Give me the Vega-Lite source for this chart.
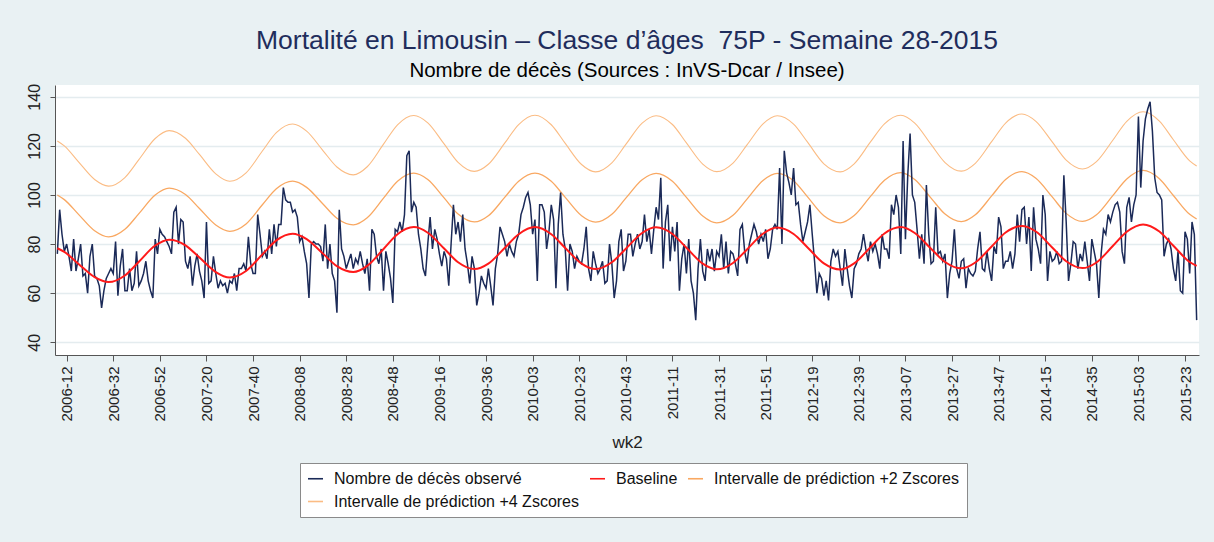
{
"$schema": "https://vega.github.io/schema/vega-lite/v6.json",
"width": 1144,
"height": 270,
"autosize": {"type": "none"},
"padding": {"left": 55, "top": 85, "right": 15, "bottom": 187},
"background": "#e9f1f3",
"title": {"text": "Mortalité en Limousin – Classe d’âges \u00a075P - Semaine 28-2015", "subtitle": "Nombre de décès (Sources : InVS-Dcar / Insee)", "anchor": "middle", "font": "Liberation Sans", "fontSize": 26.5, "fontWeight": "normal", "color": "#1f2d5c", "subtitleFont": "Liberation Sans", "subtitleFontSize": 20.5, "subtitleColor": "#000000", "offset": 2, "subtitlePadding": 6},
"datasets": {
"obs": [
{"wk2":"2006-08","n":76},{"wk2":"2006-09","n":94},{"wk2":"2006-10","n":84},{"wk2":"2006-11","n":77},{"wk2":"2006-12","n":80},{"wk2":"2006-13","n":75},{"wk2":"2006-14","n":69},{"wk2":"2006-15","n":82},{"wk2":"2006-16","n":69},{"wk2":"2006-17","n":74},{"wk2":"2006-18","n":80},{"wk2":"2006-19","n":67},{"wk2":"2006-20","n":68},{"wk2":"2006-21","n":60},{"wk2":"2006-22","n":75},{"wk2":"2006-23","n":80},{"wk2":"2006-24","n":67},{"wk2":"2006-25","n":66},{"wk2":"2006-26","n":63},{"wk2":"2006-27","n":54},{"wk2":"2006-28","n":61},{"wk2":"2006-29","n":66},{"wk2":"2006-30","n":68},{"wk2":"2006-31","n":70},{"wk2":"2006-32","n":68},{"wk2":"2006-33","n":81},{"wk2":"2006-34","n":59},{"wk2":"2006-35","n":71},{"wk2":"2006-36","n":78},{"wk2":"2006-37","n":61},{"wk2":"2006-38","n":61},{"wk2":"2006-39","n":70},{"wk2":"2006-40","n":61},{"wk2":"2006-41","n":64},{"wk2":"2006-42","n":77},{"wk2":"2006-43","n":63},{"wk2":"2006-44","n":65},{"wk2":"2006-45","n":68},{"wk2":"2006-46","n":73},{"wk2":"2006-47","n":65},{"wk2":"2006-48","n":61},{"wk2":"2006-49","n":58},{"wk2":"2006-50","n":82},{"wk2":"2006-51","n":76},{"wk2":"2006-52","n":86},
{"wk2":"2007-01","n":84},{"wk2":"2007-02","n":83},{"wk2":"2007-03","n":81},{"wk2":"2007-04","n":79},{"wk2":"2007-05","n":76},{"wk2":"2007-06","n":93},{"wk2":"2007-07","n":95},{"wk2":"2007-08","n":80},{"wk2":"2007-09","n":90},{"wk2":"2007-10","n":89},{"wk2":"2007-11","n":73},{"wk2":"2007-12","n":70},{"wk2":"2007-13","n":75},{"wk2":"2007-14","n":63},{"wk2":"2007-15","n":71},{"wk2":"2007-16","n":76},{"wk2":"2007-17","n":69},{"wk2":"2007-18","n":65},{"wk2":"2007-19","n":58},{"wk2":"2007-20","n":89},{"wk2":"2007-21","n":64},{"wk2":"2007-22","n":65},{"wk2":"2007-23","n":75},{"wk2":"2007-24","n":68},{"wk2":"2007-25","n":62},{"wk2":"2007-26","n":65},{"wk2":"2007-27","n":63},{"wk2":"2007-28","n":64},{"wk2":"2007-29","n":60},{"wk2":"2007-30","n":65},{"wk2":"2007-31","n":64},{"wk2":"2007-32","n":68},{"wk2":"2007-33","n":61},{"wk2":"2007-34","n":70},{"wk2":"2007-35","n":70},{"wk2":"2007-36","n":72},{"wk2":"2007-37","n":69},{"wk2":"2007-38","n":83},{"wk2":"2007-39","n":72},{"wk2":"2007-40","n":68},{"wk2":"2007-41","n":68},{"wk2":"2007-42","n":92},{"wk2":"2007-43","n":84},{"wk2":"2007-44","n":75},{"wk2":"2007-45","n":77},{"wk2":"2007-46","n":74},{"wk2":"2007-47","n":86},{"wk2":"2007-48","n":76},{"wk2":"2007-49","n":88},{"wk2":"2007-50","n":79},{"wk2":"2007-51","n":88},{"wk2":"2007-52","n":88},
{"wk2":"2008-01","n":103},{"wk2":"2008-02","n":98},{"wk2":"2008-03","n":97},{"wk2":"2008-04","n":97},{"wk2":"2008-05","n":93},{"wk2":"2008-06","n":94},{"wk2":"2008-07","n":91},{"wk2":"2008-08","n":81},{"wk2":"2008-09","n":83},{"wk2":"2008-10","n":77},{"wk2":"2008-11","n":72},{"wk2":"2008-12","n":58},{"wk2":"2008-13","n":80},{"wk2":"2008-14","n":81},{"wk2":"2008-15","n":80},{"wk2":"2008-16","n":80},{"wk2":"2008-17","n":79},{"wk2":"2008-18","n":73},{"wk2":"2008-19","n":88},{"wk2":"2008-20","n":70},{"wk2":"2008-21","n":80},{"wk2":"2008-22","n":68},{"wk2":"2008-23","n":65},{"wk2":"2008-24","n":52},{"wk2":"2008-25","n":94},{"wk2":"2008-26","n":78},{"wk2":"2008-27","n":75},{"wk2":"2008-28","n":70},{"wk2":"2008-29","n":73},{"wk2":"2008-30","n":76},{"wk2":"2008-31","n":70},{"wk2":"2008-32","n":74},{"wk2":"2008-33","n":72},{"wk2":"2008-34","n":77},{"wk2":"2008-35","n":72},{"wk2":"2008-36","n":68},{"wk2":"2008-37","n":74},{"wk2":"2008-38","n":61},{"wk2":"2008-39","n":86},{"wk2":"2008-40","n":84},{"wk2":"2008-41","n":75},{"wk2":"2008-42","n":72},{"wk2":"2008-43","n":78},{"wk2":"2008-44","n":61},{"wk2":"2008-45","n":77},{"wk2":"2008-46","n":72},{"wk2":"2008-47","n":66},{"wk2":"2008-48","n":56},{"wk2":"2008-49","n":86},{"wk2":"2008-50","n":85},{"wk2":"2008-51","n":89},{"wk2":"2008-52","n":85},
{"wk2":"2009-01","n":92},{"wk2":"2009-02","n":116},{"wk2":"2009-03","n":118},{"wk2":"2009-04","n":93},{"wk2":"2009-05","n":97},{"wk2":"2009-06","n":95},{"wk2":"2009-07","n":84},{"wk2":"2009-08","n":78},{"wk2":"2009-09","n":70},{"wk2":"2009-10","n":67},{"wk2":"2009-11","n":80},{"wk2":"2009-12","n":91},{"wk2":"2009-13","n":78},{"wk2":"2009-14","n":86},{"wk2":"2009-15","n":82},{"wk2":"2009-16","n":76},{"wk2":"2009-17","n":71},{"wk2":"2009-18","n":77},{"wk2":"2009-19","n":74},{"wk2":"2009-20","n":63},{"wk2":"2009-21","n":80},{"wk2":"2009-22","n":96},{"wk2":"2009-23","n":84},{"wk2":"2009-24","n":89},{"wk2":"2009-25","n":81},{"wk2":"2009-26","n":92},{"wk2":"2009-27","n":78},{"wk2":"2009-28","n":72},{"wk2":"2009-29","n":64},{"wk2":"2009-30","n":75},{"wk2":"2009-31","n":70},{"wk2":"2009-32","n":55},{"wk2":"2009-33","n":60},{"wk2":"2009-34","n":67},{"wk2":"2009-35","n":64},{"wk2":"2009-36","n":62},{"wk2":"2009-37","n":70},{"wk2":"2009-38","n":63},{"wk2":"2009-39","n":55},{"wk2":"2009-40","n":70},{"wk2":"2009-41","n":76},{"wk2":"2009-42","n":87},{"wk2":"2009-43","n":84},{"wk2":"2009-44","n":81},{"wk2":"2009-45","n":75},{"wk2":"2009-46","n":80},{"wk2":"2009-47","n":77},{"wk2":"2009-48","n":75},{"wk2":"2009-49","n":81},{"wk2":"2009-50","n":84},{"wk2":"2009-51","n":92},{"wk2":"2009-52","n":95},{"wk2":"2009-53","n":99},
{"wk2":"2010-01","n":101},{"wk2":"2010-02","n":96},{"wk2":"2010-03","n":84},{"wk2":"2010-04","n":90},{"wk2":"2010-05","n":65},{"wk2":"2010-06","n":96},{"wk2":"2010-07","n":96},{"wk2":"2010-08","n":93},{"wk2":"2010-09","n":78},{"wk2":"2010-10","n":85},{"wk2":"2010-11","n":96},{"wk2":"2010-12","n":90},{"wk2":"2010-13","n":62},{"wk2":"2010-14","n":88},{"wk2":"2010-15","n":101},{"wk2":"2010-16","n":84},{"wk2":"2010-17","n":78},{"wk2":"2010-18","n":61},{"wk2":"2010-19","n":80},{"wk2":"2010-20","n":77},{"wk2":"2010-21","n":70},{"wk2":"2010-22","n":75},{"wk2":"2010-23","n":73},{"wk2":"2010-24","n":72},{"wk2":"2010-25","n":78},{"wk2":"2010-26","n":87},{"wk2":"2010-27","n":70},{"wk2":"2010-28","n":65},{"wk2":"2010-29","n":77},{"wk2":"2010-30","n":72},{"wk2":"2010-31","n":68},{"wk2":"2010-32","n":70},{"wk2":"2010-33","n":73},{"wk2":"2010-34","n":64},{"wk2":"2010-35","n":65},{"wk2":"2010-36","n":80},{"wk2":"2010-37","n":72},{"wk2":"2010-38","n":58},{"wk2":"2010-39","n":65},{"wk2":"2010-40","n":81},{"wk2":"2010-41","n":86},{"wk2":"2010-42","n":69},{"wk2":"2010-43","n":73},{"wk2":"2010-44","n":84},{"wk2":"2010-45","n":84},{"wk2":"2010-46","n":75},{"wk2":"2010-47","n":80},{"wk2":"2010-48","n":84},{"wk2":"2010-49","n":78},{"wk2":"2010-50","n":81},{"wk2":"2010-51","n":92},{"wk2":"2010-52","n":81},
{"wk2":"2011-01","n":86},{"wk2":"2011-02","n":76},{"wk2":"2011-03","n":86},{"wk2":"2011-04","n":95},{"wk2":"2011-05","n":90},{"wk2":"2011-06","n":107},{"wk2":"2011-07","n":70},{"wk2":"2011-08","n":89},{"wk2":"2011-09","n":96},{"wk2":"2011-10","n":73},{"wk2":"2011-11","n":87},{"wk2":"2011-12","n":77},{"wk2":"2011-13","n":89},{"wk2":"2011-14","n":61},{"wk2":"2011-15","n":74},{"wk2":"2011-16","n":80},{"wk2":"2011-17","n":68},{"wk2":"2011-18","n":82},{"wk2":"2011-19","n":65},{"wk2":"2011-20","n":60},{"wk2":"2011-21","n":49},{"wk2":"2011-22","n":70},{"wk2":"2011-23","n":82},{"wk2":"2011-24","n":69},{"wk2":"2011-25","n":65},{"wk2":"2011-26","n":78},{"wk2":"2011-27","n":73},{"wk2":"2011-28","n":78},{"wk2":"2011-29","n":69},{"wk2":"2011-30","n":77},{"wk2":"2011-31","n":75},{"wk2":"2011-32","n":84},{"wk2":"2011-33","n":70},{"wk2":"2011-34","n":81},{"wk2":"2011-35","n":68},{"wk2":"2011-36","n":77},{"wk2":"2011-37","n":76},{"wk2":"2011-38","n":72},{"wk2":"2011-39","n":67},{"wk2":"2011-40","n":86},{"wk2":"2011-41","n":88},{"wk2":"2011-42","n":77},{"wk2":"2011-43","n":72},{"wk2":"2011-44","n":80},{"wk2":"2011-45","n":84},{"wk2":"2011-46","n":88},{"wk2":"2011-47","n":85},{"wk2":"2011-48","n":80},{"wk2":"2011-49","n":84},{"wk2":"2011-50","n":81},{"wk2":"2011-51","n":86},{"wk2":"2011-52","n":74},
{"wk2":"2012-01","n":78},{"wk2":"2012-02","n":86},{"wk2":"2012-03","n":88},{"wk2":"2012-04","n":86},{"wk2":"2012-05","n":111},{"wk2":"2012-06","n":80},{"wk2":"2012-07","n":118},{"wk2":"2012-08","n":109},{"wk2":"2012-09","n":105},{"wk2":"2012-10","n":100},{"wk2":"2012-11","n":111},{"wk2":"2012-12","n":96},{"wk2":"2012-13","n":97},{"wk2":"2012-14","n":88},{"wk2":"2012-15","n":81},{"wk2":"2012-16","n":85},{"wk2":"2012-17","n":89},{"wk2":"2012-18","n":96},{"wk2":"2012-19","n":84},{"wk2":"2012-20","n":73},{"wk2":"2012-21","n":60},{"wk2":"2012-22","n":68},{"wk2":"2012-23","n":66},{"wk2":"2012-24","n":59},{"wk2":"2012-25","n":65},{"wk2":"2012-26","n":57},{"wk2":"2012-27","n":73},{"wk2":"2012-28","n":78},{"wk2":"2012-29","n":75},{"wk2":"2012-30","n":77},{"wk2":"2012-31","n":70},{"wk2":"2012-32","n":63},{"wk2":"2012-33","n":78},{"wk2":"2012-34","n":70},{"wk2":"2012-35","n":63},{"wk2":"2012-36","n":58},{"wk2":"2012-37","n":70},{"wk2":"2012-38","n":72},{"wk2":"2012-39","n":76},{"wk2":"2012-40","n":78},{"wk2":"2012-41","n":84},{"wk2":"2012-42","n":78},{"wk2":"2012-43","n":73},{"wk2":"2012-44","n":81},{"wk2":"2012-45","n":77},{"wk2":"2012-46","n":80},{"wk2":"2012-47","n":76},{"wk2":"2012-48","n":70},{"wk2":"2012-49","n":84},{"wk2":"2012-50","n":78},{"wk2":"2012-51","n":78},{"wk2":"2012-52","n":74},
{"wk2":"2013-01","n":96},{"wk2":"2013-02","n":92},{"wk2":"2013-03","n":100},{"wk2":"2013-04","n":95},{"wk2":"2013-05","n":76},{"wk2":"2013-06","n":122},{"wk2":"2013-07","n":82},{"wk2":"2013-08","n":108},{"wk2":"2013-09","n":125},{"wk2":"2013-10","n":100},{"wk2":"2013-11","n":97},{"wk2":"2013-12","n":86},{"wk2":"2013-13","n":74},{"wk2":"2013-14","n":84},{"wk2":"2013-15","n":72},{"wk2":"2013-16","n":104},{"wk2":"2013-17","n":84},{"wk2":"2013-18","n":72},{"wk2":"2013-19","n":73},{"wk2":"2013-20","n":95},{"wk2":"2013-21","n":76},{"wk2":"2013-22","n":77},{"wk2":"2013-23","n":73},{"wk2":"2013-24","n":76},{"wk2":"2013-25","n":58},{"wk2":"2013-26","n":68},{"wk2":"2013-27","n":73},{"wk2":"2013-28","n":86},{"wk2":"2013-29","n":70},{"wk2":"2013-30","n":66},{"wk2":"2013-31","n":73},{"wk2":"2013-32","n":74},{"wk2":"2013-33","n":62},{"wk2":"2013-34","n":70},{"wk2":"2013-35","n":68},{"wk2":"2013-36","n":67},{"wk2":"2013-37","n":69},{"wk2":"2013-38","n":78},{"wk2":"2013-39","n":85},{"wk2":"2013-40","n":70},{"wk2":"2013-41","n":69},{"wk2":"2013-42","n":77},{"wk2":"2013-43","n":70},{"wk2":"2013-44","n":65},{"wk2":"2013-45","n":79},{"wk2":"2013-46","n":76},{"wk2":"2013-47","n":91},{"wk2":"2013-48","n":87},{"wk2":"2013-49","n":70},{"wk2":"2013-50","n":73},{"wk2":"2013-51","n":73},{"wk2":"2013-52","n":77},
{"wk2":"2014-01","n":70},{"wk2":"2014-02","n":76},{"wk2":"2014-03","n":92},{"wk2":"2014-04","n":81},{"wk2":"2014-05","n":94},{"wk2":"2014-06","n":95},{"wk2":"2014-07","n":80},{"wk2":"2014-08","n":91},{"wk2":"2014-09","n":69},{"wk2":"2014-10","n":95},{"wk2":"2014-11","n":82},{"wk2":"2014-12","n":78},{"wk2":"2014-13","n":72},{"wk2":"2014-14","n":100},{"wk2":"2014-15","n":92},{"wk2":"2014-16","n":65},{"wk2":"2014-17","n":77},{"wk2":"2014-18","n":73},{"wk2":"2014-19","n":74},{"wk2":"2014-20","n":77},{"wk2":"2014-21","n":72},{"wk2":"2014-22","n":73},{"wk2":"2014-23","n":108},{"wk2":"2014-24","n":89},{"wk2":"2014-25","n":65},{"wk2":"2014-26","n":72},{"wk2":"2014-27","n":81},{"wk2":"2014-28","n":80},{"wk2":"2014-29","n":70},{"wk2":"2014-30","n":76},{"wk2":"2014-31","n":73},{"wk2":"2014-32","n":81},{"wk2":"2014-33","n":73},{"wk2":"2014-34","n":65},{"wk2":"2014-35","n":82},{"wk2":"2014-36","n":77},{"wk2":"2014-37","n":72},{"wk2":"2014-38","n":58},{"wk2":"2014-39","n":76},{"wk2":"2014-40","n":86},{"wk2":"2014-41","n":84},{"wk2":"2014-42","n":92},{"wk2":"2014-43","n":89},{"wk2":"2014-44","n":93},{"wk2":"2014-45","n":96},{"wk2":"2014-46","n":97},{"wk2":"2014-47","n":93},{"wk2":"2014-48","n":77},{"wk2":"2014-49","n":72},{"wk2":"2014-50","n":95},{"wk2":"2014-51","n":99},{"wk2":"2014-52","n":89},
{"wk2":"2015-01","n":96},{"wk2":"2015-02","n":100},{"wk2":"2015-03","n":132},{"wk2":"2015-04","n":103},{"wk2":"2015-05","n":122},{"wk2":"2015-06","n":131},{"wk2":"2015-07","n":135},{"wk2":"2015-08","n":138},{"wk2":"2015-09","n":126},{"wk2":"2015-10","n":107},{"wk2":"2015-11","n":101},{"wk2":"2015-12","n":100},{"wk2":"2015-13","n":98},{"wk2":"2015-14","n":75},{"wk2":"2015-15","n":80},{"wk2":"2015-16","n":82},{"wk2":"2015-17","n":78},{"wk2":"2015-18","n":70},{"wk2":"2015-19","n":65},{"wk2":"2015-20","n":77},{"wk2":"2015-21","n":61},{"wk2":"2015-22","n":60},{"wk2":"2015-23","n":85},{"wk2":"2015-24","n":82},{"wk2":"2015-25","n":68},{"wk2":"2015-26","n":89},{"wk2":"2015-27","n":84},{"wk2":"2015-28","n":49}
],
"curves": [
{"wk2":"2006-08","b":78.3,"p2":100,"p4":122},{"wk2":"2006-11","b":76.8,"p2":98.1,"p4":120},{"wk2":"2006-17","b":72,"p2":92.2,"p4":113.6},{"wk2":"2006-24","b":66.5,"p2":85.4,"p4":106.3},{"wk2":"2006-30","b":64.5,"p2":82.9,"p4":103.6},{"wk2":"2006-37","b":67.2,"p2":86,"p4":107.1},{"wk2":"2006-43","b":72.8,"p2":92.4,"p4":114.4},{"wk2":"2006-50","b":79.4,"p2":100,"p4":123},
{"wk2":"2007-04","b":81.8,"p2":102.8,"p4":126.2},{"wk2":"2007-11","b":79.5,"p2":100.2,"p4":123.1},{"wk2":"2007-17","b":74.5,"p2":94.5,"p4":116.5},{"wk2":"2007-24","b":68.6,"p2":87.8,"p4":108.6},{"wk2":"2007-30","b":66.4,"p2":85.2,"p4":105.6},{"wk2":"2007-37","b":69,"p2":88.2,"p4":109},{"wk2":"2007-44","b":75.8,"p2":96,"p4":117.9},{"wk2":"2007-50","b":81.5,"p2":102.5,"p4":125.4},
{"wk2":"2008-05","b":84.2,"p2":105.6,"p4":128.9},{"wk2":"2008-11","b":82,"p2":103.1,"p4":126},{"wk2":"2008-18","b":76.1,"p2":96.3,"p4":118.1},{"wk2":"2008-24","b":71,"p2":90.5,"p4":111.4},{"wk2":"2008-31","b":68.6,"p2":87.8,"p4":108.2},{"wk2":"2008-37","b":71.1,"p2":90.7,"p4":111.5},{"wk2":"2008-44","b":78,"p2":98.7,"p4":120.7},{"wk2":"2008-50","b":84,"p2":105.6,"p4":128.6},
{"wk2":"2009-05","b":86.9,"p2":108.9,"p4":132.4},{"wk2":"2009-11","b":84.6,"p2":106.3,"p4":129.4},{"wk2":"2009-18","b":78.2,"p2":98.8,"p4":120.8},{"wk2":"2009-24","b":72.6,"p2":92.2,"p4":113.3},{"wk2":"2009-31","b":69.8,"p2":89,"p4":109.6},{"wk2":"2009-37","b":72,"p2":91.5,"p4":112.5},{"wk2":"2009-44","b":78.4,"p2":99,"p4":121.1},{"wk2":"2009-50","b":84,"p2":105.6,"p4":128.7},
{"wk2":"2010-04","b":86.9,"p2":108.9,"p4":132.5},{"wk2":"2010-11","b":84,"p2":105.6,"p4":128.6},{"wk2":"2010-17","b":78.4,"p2":99,"p4":121},{"wk2":"2010-24","b":72,"p2":91.5,"p4":112.4},{"wk2":"2010-30","b":69.8,"p2":88.9,"p4":109.4},{"wk2":"2010-37","b":72.6,"p2":92.1,"p4":113.1},{"wk2":"2010-43","b":78.1,"p2":98.7,"p4":120.6},{"wk2":"2010-50","b":84.5,"p2":106.2,"p4":129.3},
{"wk2":"2011-04","b":86.8,"p2":108.8,"p4":132.3},{"wk2":"2011-11","b":84.1,"p2":105.6,"p4":128.7},{"wk2":"2011-17","b":78.5,"p2":99,"p4":121.2},{"wk2":"2011-24","b":72,"p2":91.4,"p4":112.6},{"wk2":"2011-30","b":69.7,"p2":88.6,"p4":109.5},{"wk2":"2011-37","b":72.3,"p2":91.7,"p4":113},{"wk2":"2011-43","b":77.8,"p2":98.3,"p4":120.4},{"wk2":"2011-50","b":84.3,"p2":106,"p4":129.1},
{"wk2":"2012-04","b":86.7,"p2":108.8,"p4":132.3},{"wk2":"2012-11","b":84.1,"p2":105.8,"p4":128.9},{"wk2":"2012-17","b":78.6,"p2":99.2,"p4":121.5},{"wk2":"2012-24","b":72.1,"p2":91.5,"p4":112.7},{"wk2":"2012-31","b":69.6,"p2":88.6,"p4":109.4},{"wk2":"2012-37","b":72.1,"p2":91.6,"p4":112.7},{"wk2":"2012-44","b":78.7,"p2":99.4,"p4":121.6},{"wk2":"2012-50","b":84.3,"p2":106,"p4":129},
{"wk2":"2013-05","b":86.9,"p2":109.1,"p4":132.5},{"wk2":"2013-11","b":84.5,"p2":106.3,"p4":129.3},{"wk2":"2013-18","b":78.1,"p2":98.7,"p4":120.6},{"wk2":"2013-24","b":72.7,"p2":92.2,"p4":113.2},{"wk2":"2013-31","b":70.1,"p2":89.1,"p4":109.7},{"wk2":"2013-37","b":72.5,"p2":91.9,"p4":112.9},{"wk2":"2013-44","b":79,"p2":99.6,"p4":121.7},{"wk2":"2013-50","b":84.7,"p2":106.3,"p4":129.3},
{"wk2":"2014-05","b":87.4,"p2":109.5,"p4":133},{"wk2":"2014-11","b":85.1,"p2":106.8,"p4":130},{"wk2":"2014-18","b":78.6,"p2":99.2,"p4":121.6},{"wk2":"2014-24","b":73,"p2":92.5,"p4":114.2},{"wk2":"2014-31","b":70.2,"p2":89.2,"p4":110.6},{"wk2":"2014-37","b":72.5,"p2":91.9,"p4":113.6},{"wk2":"2014-44","b":79.2,"p2":99.7,"p4":122.3},{"wk2":"2014-50","b":85,"p2":106.5,"p4":130},
{"wk2":"2015-05","b":88,"p2":110,"p4":133.9},{"wk2":"2015-12","b":85.1,"p2":106.6,"p4":130.1},{"wk2":"2015-18","b":79.3,"p2":99.8,"p4":122.5},{"wk2":"2015-25","b":72.7,"p2":92.1,"p4":113.9},{"wk2":"2015-28","b":71.1,"p2":90.2,"p4":111.8}
]
},
"encoding": {
"x": {"field": "wk2", "type": "ordinal", "sort": "ascending", "scale": {"type": "point", "padding": 4.6},
"axis": {"title": "wk2", "values": ["2006-12","2006-32","2006-52","2007-20","2007-40","2008-08","2008-28","2008-48","2009-16","2009-36","2010-03","2010-23","2010-43","2011-11","2011-31","2011-51","2012-19","2012-39","2013-07","2013-27","2013-47","2014-15","2014-35","2015-03","2015-23"]}}
},
"layer": [
{"data": {"name": "curves"}, "mark": {"type": "line", "interpolate": "monotone", "strokeWidth": 1.1},
"encoding": {"y": {"field": "p4", "type": "quantitative", "scale": {"domain": [34.8, 144.8], "nice": false, "zero": false}, "axis": {"values": [40, 60, 80, 100, 120, 140], "title": null}},
"color": {"datum": "Intervalle de prédiction +4 Zscores", "scale": {"domain": ["Nombre de décès observé", "Intervalle de prédiction +2 Zscores", "Baseline", "Intervalle de prédiction +4 Zscores"], "range": ["#1b2a58", "#f9a862", "#ff1a1a", "#fbbc84"]}, "legend": {"title": null}}}},
{"data": {"name": "curves"}, "mark": {"type": "line", "interpolate": "monotone", "strokeWidth": 1.3},
"encoding": {"y": {"field": "p2", "type": "quantitative"}, "color": {"datum": "Intervalle de prédiction +2 Zscores"}}},
{"data": {"name": "obs"}, "mark": {"type": "line", "strokeWidth": 1.5},
"encoding": {"y": {"field": "n", "type": "quantitative"}, "color": {"datum": "Nombre de décès observé"}}},
{"data": {"name": "curves"}, "mark": {"type": "line", "interpolate": "monotone", "strokeWidth": 2},
"encoding": {"y": {"field": "b", "type": "quantitative"}, "color": {"datum": "Baseline"}}}
],
"config": {
"font": "Liberation Sans",
"view": {"stroke": null, "fill": "#ffffff"},
"axis": {"domainColor": "#555555", "tickColor": "#555555", "labelColor": "#222222", "titleColor": "#222222", "labelFont": "Liberation Sans", "titleFont": "Liberation Sans"},
"axisY": {"labelAngle": -90, "labelFontSize": 16, "tickSize": 5, "labelPadding": 8, "grid": true, "gridColor": "#e4ecef", "gridWidth": 1.5},
"axisX": {"labelAngle": -90, "labelFontSize": 15, "tickSize": 6, "labelPadding": 5, "grid": false, "titleFontSize": 17, "titleFontWeight": "normal", "titlePadding": 13, "labelAlign": "right", "labelBaseline": "middle"},
"legend": {"orient": "none", "legendX": 245, "legendY": 378, "columns": 3, "columnPadding": 6, "rowPadding": 6, "labelFontSize": 16, "labelColor": "#111111", "labelFont": "Liberation Sans", "symbolType": "stroke", "symbolSize": 225, "symbolStrokeWidth": 1.6, "labelOffset": 10, "padding": 7, "strokeColor": "#8a8a8a", "fillColor": "#ffffff", "labelLimit": 400}
}
}
